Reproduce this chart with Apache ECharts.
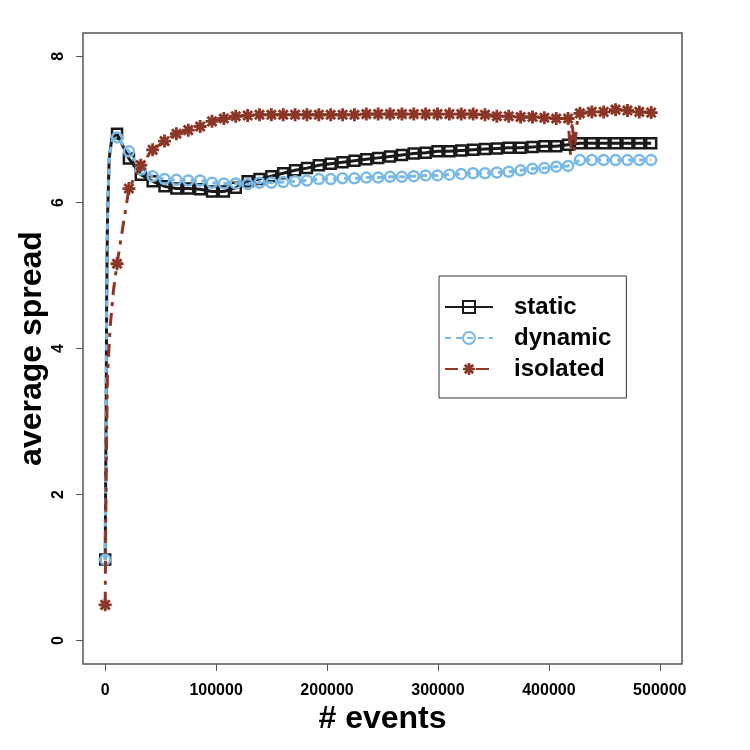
<!DOCTYPE html>
<html>
<head>
<meta charset="utf-8">
<script src="https://cdn.jsdelivr.net/npm/echarts@6/dist/echarts.min.js"></script>
<style>html,body{margin:0;padding:0;background:#fff}#c{width:750px;height:750px}</style>
</head>
<body>
<div id="c"></div>
<script>
// ---- data ----
const xEvents = [0,10700,21400,32100,42800,53500,64200,74900,85600,96300,107000,117700,128400,139100,149800,160500,171200,181900,192600,203300,214000,224700,235400,246100,256800,267500,278200,288900,299600,310300,321000,331700,342400,353100,363800,374500,385200,395900,406600,417300,428000,438700,449400,460100,470800,481500,492200];
const staticSpread = [1.11,6.94,6.60,6.38,6.29,6.22,6.19,6.19,6.18,6.15,6.15,6.20,6.29,6.32,6.36,6.40,6.44,6.47,6.51,6.53,6.55,6.57,6.59,6.61,6.63,6.65,6.67,6.68,6.70,6.70,6.71,6.72,6.73,6.74,6.75,6.75,6.76,6.77,6.77,6.79,6.81,6.81,6.81,6.81,6.81,6.81,6.81];
const dynamicSpread = [1.11,6.89,6.70,6.45,6.36,6.32,6.31,6.30,6.30,6.27,6.26,6.26,6.25,6.27,6.27,6.28,6.29,6.30,6.32,6.32,6.33,6.33,6.34,6.34,6.35,6.35,6.36,6.37,6.37,6.38,6.39,6.40,6.40,6.41,6.42,6.44,6.46,6.47,6.49,6.50,6.58,6.58,6.58,6.58,6.58,6.58,6.58];
const isolatedSpread = [0.49,5.16,6.19,6.51,6.72,6.84,6.94,6.99,7.04,7.11,7.15,7.18,7.19,7.20,7.20,7.20,7.20,7.20,7.20,7.20,7.20,7.20,7.21,7.21,7.21,7.21,7.21,7.21,7.21,7.21,7.21,7.21,7.20,7.18,7.18,7.17,7.17,7.16,7.15,7.15,7.22,7.24,7.24,7.27,7.26,7.24,7.23];
// unmarked intermediate samples (steep start, dip)
const staticExtraX = [900,1350,2070,3600,6000];
const staticExtraY = [3.30,4.67,5.77,6.60,6.88];
const dynamicExtraX = [900,1350,2070,3600,6000];
const dynamicExtraY = [3.30,4.67,5.77,6.58,6.84];
const isolatedExtraX = [800,2000,4500,7500,419500,421000,423000,425000,426500];
const isolatedExtraY = [2.20,3.60,4.30,4.80,6.65,7.10,6.70,7.05,7.18];
const xTicks = [0,100000,200000,300000,400000,500000];
const yTicks = [0,2,4,6,8];
const seriesNames = ['static','dynamic','isolated'];

function build(xs, ys, ex, ey) {
  const pts = xs.map((x, i) => ({value: [x, ys[i]]}));
  ex.forEach((x, i) => pts.push({value: [x, ey[i]], symbol: 'none'}));
  pts.sort((a, b) => a.value[0] - b.value[0]);
  return pts;
}

const FONT = '"Liberation Sans", Arial, Helvetica, sans-serif';
const C_STATIC = '#1a1a1a', C_DYN = '#79b9e6', C_ISO = '#8b3626';
const asterisk = 'path://M39,0L61,0L61,100L39,100Z M0,39L100,39L100,61L0,61Z M7.2,22.8L22.8,7.2L92.8,77.2L77.2,92.8Z M77.2,7.2L92.8,22.8L22.8,92.8L7.2,77.2Z';

const chart = echarts.init(document.getElementById('c'), null, {renderer: 'canvas'});
chart.setOption({
  animation: false,
  backgroundColor: '#fff',
  textStyle: {fontFamily: FONT},
  grid: {left: 83, right: 68, top: 33, bottom: 86, show: true, borderColor: '#555', borderWidth: 1.5, outerBoundsMode: 'none', containLabel: false},
  legend: {
    data: seriesNames,
    orient: 'vertical',
    left: 439, top: 276,
    padding: [19, 15, 17, 5],
    itemWidth: 48, itemHeight: 15, itemGap: 7,
    borderColor: '#333', borderWidth: 1, borderRadius: 0,
    selectedMode: false,
    textStyle: {fontSize: 24, fontWeight: 'bold', color: '#000', fontFamily: FONT, padding: [0, 0, 0, 16]}
  },
  xAxis: {
    type: 'value', min: -20000, max: 520000,
    name: '# events', nameLocation: 'middle', nameGap: 39, nameMoveOverlap: false,
    nameTextStyle: {fontSize: 32, fontWeight: 'bold', color: '#000', fontFamily: FONT},
    axisLine: {show: false, onZero: false},
    axisTick: {show: true, inside: false, length: 7, customValues: xTicks, lineStyle: {color: '#555', width: 1}},
    axisLabel: {customValues: xTicks, fontSize: 16, fontWeight: 'bold', color: '#000', margin: 19, formatter: v => String(v)},
    splitLine: {show: false}
  },
  yAxis: {
    type: 'value', min: -0.32, max: 8.32,
    name: 'average spread', nameLocation: 'middle', nameGap: 35, nameMoveOverlap: false,
    nameTextStyle: {fontSize: 32, fontWeight: 'bold', color: '#000', fontFamily: FONT},
    axisLine: {show: false, onZero: false},
    axisTick: {show: true, inside: false, length: 7, customValues: yTicks, lineStyle: {color: '#555', width: 1}},
    axisLabel: {customValues: yTicks, fontSize: 16, fontWeight: 'bold', color: '#000', margin: 16, rotate: 90, formatter: v => String(v)},
    splitLine: {show: false}
  },
  series: [
    {
      name: 'static', type: 'line', data: build(xEvents, staticSpread, staticExtraX, staticExtraY),
      symbol: 'rect', symbolSize: 10, showSymbol: true, showAllSymbol: true,
      lineStyle: {color: C_STATIC, width: 3, type: 'solid'},
      itemStyle: {color: 'rgba(0,0,0,0)', borderColor: C_STATIC, borderWidth: 2.5},
      emphasis: {disabled: true}, z: 2
    },
    {
      name: 'dynamic', type: 'line', data: build(xEvents, dynamicSpread, dynamicExtraX, dynamicExtraY),
      symbol: 'circle', symbolSize: 10, showSymbol: true, showAllSymbol: true,
      lineStyle: {color: C_DYN, width: 3, type: [6, 5]},
      itemStyle: {color: 'rgba(0,0,0,0)', borderColor: C_DYN, borderWidth: 2.5},
      emphasis: {disabled: true}, z: 3
    },
    {
      name: 'isolated', type: 'line', data: build(xEvents, isolatedSpread, isolatedExtraX, isolatedExtraY),
      symbol: asterisk, symbolSize: 13, showSymbol: true, showAllSymbol: true,
      lineStyle: {color: C_ISO, width: 3, type: [13, 7, 4, 7]},
      itemStyle: {color: C_ISO},
      emphasis: {disabled: true}, z: 4
    }
  ]
});
</script>
</body>
</html>
